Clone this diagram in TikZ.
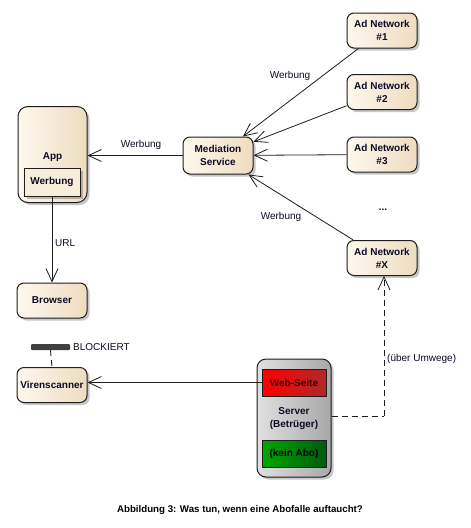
\documentclass[tikz,border=0pt]{standalone}
\usepackage{fontspec}
\setmainfont{Liberation Sans}
\usetikzlibrary{arrows.meta,shadows}
\definecolor{creamL}{HTML}{FDF8EE}
\definecolor{creamR}{HTML}{EEDCBF}
\definecolor{edge}{HTML}{1E1E1E}
\definecolor{txt}{HTML}{0C0C24}
\definecolor{grayL}{HTML}{E0E0E0}
\definecolor{grayR}{HTML}{A8A8A8}
\definecolor{redL}{HTML}{FF0000}
\definecolor{redR}{HTML}{B02828}
\definecolor{greenL}{HTML}{00A800}
\definecolor{greenR}{HTML}{005A10}
\begin{document}
\begin{tikzpicture}[x=1pt,y=-1pt,
  shad/.style={drop shadow={shadow xshift=2.5pt,shadow yshift=-2.5pt,fill=black,opacity=0.22}},
  box/.style={draw=edge,line width=1pt,rounded corners=7pt,left color=creamL,right color=creamR,shad,
    font=\bfseries\fontsize{10}{13}\selectfont,text=txt,align=center,inner sep=0pt},
  inbox/.style={draw=edge,line width=1pt,fill=creamL!60!creamR,shad,
    font=\bfseries\fontsize{10}{13}\selectfont,text=txt,align=center,inner sep=0pt},
  lab/.style={font=\fontsize{10}{12}\selectfont,text=txt,inner sep=0pt},
  tip/.style={-{Straight Barb[length=13pt,width=12pt,line width=0.8pt]}},
  arr/.style={draw=edge,line width=0.8pt,tip},
  dsh/.style={draw=edge,line width=0.9pt,dash pattern=on 6pt off 4pt}]
\useasboundingbox[fill=white] (0,0) rectangle (471,528);

% App
\node[box,rounded corners=10pt,minimum width=69pt,minimum height=96pt] (app) at (52.5,154.5) {};
\node[font=\bfseries\fontsize{10}{13}\selectfont,text=txt,inner sep=0pt] (apptxt) at (52.5,157) {App};
\node[inbox,minimum width=56pt,minimum height=28pt] (appw) at (52,182) {Werbung};

% Mediation
\node[box,minimum width=70pt,minimum height=37pt] (med) at (218,155.5) {Mediation\\Service};

% Ad networks
\node[box,minimum width=70pt,minimum height=35pt] (ad1) at (382,30.5) {Ad Network\\\#1};
\node[box,minimum width=70pt,minimum height=35pt] (ad2) at (382,92) {Ad Network\\\#2};
\node[box,minimum width=70pt,minimum height=35pt] (ad3) at (382,154.5) {Ad Network\\\#3};
\node[font=\bfseries\fontsize{10}{13}\selectfont,text=txt,inner sep=0pt] (dots) at (383,210) {...};
\node[box,minimum width=70pt,minimum height=35pt] (adx) at (382,258) {Ad Network\\\#X};

% Browser, Virenscanner
\node[box,minimum width=70pt,minimum height=35pt] (browser) at (52,300.5) {Browser};
\node[box,minimum width=70pt,minimum height=35pt] (virus) at (52,385) {Virenscanner};

% Block bar
\node[fill=black!75,draw=none,rounded corners=1pt,minimum width=39pt,minimum height=6pt,inner sep=0pt] (block) at (50.5,347) {};
\node[lab,anchor=west] (blocktxt) at (73,347) {BLOCKIERT};

% Server
\node[draw=edge,line width=1pt,rounded corners=9pt,left color=grayL,right color=grayR,shad,
      minimum width=74pt,minimum height=118pt,inner sep=0pt] (server) at (294,418) {};
\node[font=\bfseries\fontsize{10}{13}\selectfont,text=txt,align=center,inner sep=0pt] (servertxt) at (294,419) {Server\\(Betrüger)};
\node[draw=edge,line width=1pt,left color=redL,right color=redR,minimum width=64pt,minimum height=27pt,
      font=\bfseries\fontsize{10}{13}\selectfont,text=black!80!red,inner sep=0pt] (web) at (294,382.5) {Web-Seite};
\node[draw=edge,line width=1pt,left color=greenL,right color=greenR,minimum width=64pt,minimum height=27pt,
      font=\bfseries\fontsize{10}{13}\selectfont,text=black,inner sep=0pt] (abo) at (294,453.5) {(kein Abo)};

% Connectors
\draw[arr] (med.west) -- (app.east |- med.west);
\node[lab] (l1) at (141,145) {Werbung};
\draw[arr] (ad1) -- (med);
\node[lab] (l2) at (290,76) {Werbung};
\draw[arr] (ad2) -- (med);
\draw[arr] (ad3) -- (med);
\draw[arr] (adx) -- (med);
\node[lab] (l3) at (281,217) {Werbung};
\draw[arr] (appw.south) -- (browser.north);
\node[lab,anchor=west] (url) at (55,243) {URL};
\draw[dsh] (block.south) -- (virus.north);
\draw[arr] (web.west) -- (web.west -| virus.east);
\coordinate (corner) at (384,416);
\draw[dsh] (server.east |- corner) -- (corner);
\draw[dsh,tip] (corner) -- (corner |- adx.south);
\node[lab,anchor=west] (umw) at (387,359) {(über Umwege)};

% Caption
\node[font=\bfseries\fontsize{9.7}{12}\selectfont,text=black,inner sep=0pt] (cap) at (240,510) {Abbildung 3: Was tun, wenn eine Abofalle auftaucht?};
\end{tikzpicture}
\end{document}
